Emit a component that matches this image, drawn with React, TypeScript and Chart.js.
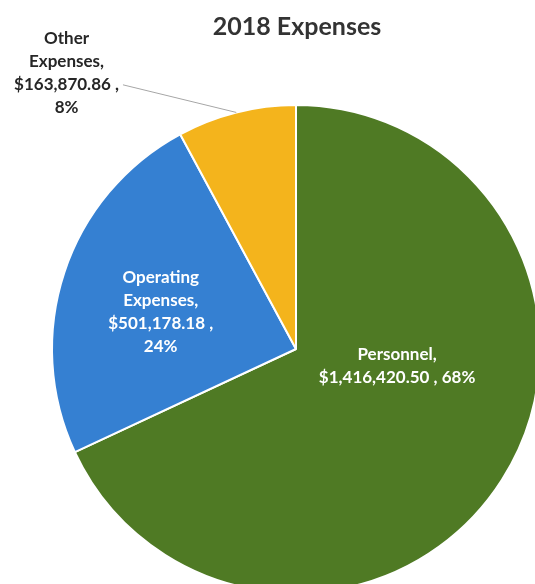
import React, { useEffect, useRef } from "react";
import { Chart, registerables } from "chart.js";

Chart.register(...registerables);

const categories = ["Personnel", "Operating Expenses", "Other Expenses"];
const amounts = [1416420.5, 501178.18, 163870.86];
const amountLabels = ["$1,416,420.50", "$501,178.18", "$163,870.86"];
const colors = ["#4f7a24", "#3580d2", "#f4b41c"];
const chartTitle = "2018 Expenses";

const FONT = "Lato, 'Open Sans', sans-serif";

const labelPlugin = {
  id: "pieLabels",
  afterDatasetsDraw(chart: any) {
    const ctx = chart.ctx;
    const meta = chart.getDatasetMeta(0);
    const total = amounts.reduce((a, b) => a + b, 0);
    // label layout per slice: angle offset (deg) from mid-angle, radial fraction, color, line breaks
    const place = [
      { off: -23, r: 0.42, color: "#ffffff", lines: (i: number, p: string) => [categories[i] + ",", amountLabels[i] + " , " + p] },
      { off: -3, r: 0.575, color: "#ffffff", lines: (i: number, p: string) => ["Operating", "Expenses,", amountLabels[i] + " ,", p] },
      { off: -25.6, r: 1.47, color: "#262626", lines: (i: number, p: string) => ["Other", "Expenses,", amountLabels[i] + " ,", p] },
    ];
    ctx.save();
    meta.data.forEach((arc: any, i: number) => {
      const { x, y, startAngle, endAngle, outerRadius } = arc.getProps(["x", "y", "startAngle", "endAngle", "outerRadius"], true);
      const mid = (startAngle + endAngle) / 2;
      const cfg = place[i];
      const a = mid + (cfg.off * Math.PI) / 180;
      const lx = x + Math.cos(a) * outerRadius * cfg.r;
      const ly = y + Math.sin(a) * outerRadius * cfg.r;
      const pct = Math.round((amounts[i] / total) * 100) + "%";
      const lines = cfg.lines(i, pct);
      const lh = 23;
      ctx.font = "bold 17px " + FONT;
      ctx.fillStyle = cfg.color;
      ctx.textAlign = "center";
      ctx.textBaseline = "middle";
      const y0 = ly - ((lines.length - 1) * lh) / 2;
      lines.forEach((t: string, k: number) => ctx.fillText(t, lx, y0 + k * lh));
      if (cfg.r > 1) {
        // leader line from arc edge to the end of the amount line
        const ex = x + Math.cos(mid) * outerRadius;
        const ey = y + Math.sin(mid) * outerRadius;
        const w = ctx.measureText(lines[2]).width;
        const sx = lx + w / 2 + 4;
        const sy = y0 + 2 * lh;
        ctx.strokeStyle = "#a6a6a6";
        ctx.lineWidth = 1;
        ctx.beginPath();
        ctx.moveTo(sx, sy);
        ctx.lineTo(ex, ey);
        ctx.stroke();
      }
    });
    // title
    ctx.font = "bold 25px " + FONT;
    ctx.fillStyle = "#333333";
    ctx.textAlign = "center";
    ctx.textBaseline = "middle";
    ctx.fillText(chartTitle, 297, 27);
    ctx.restore();
  },
};

export default function App() {
  const ref = useRef<HTMLCanvasElement>(null);
  useEffect(() => {
    const chart = new Chart(ref.current as HTMLCanvasElement, {
      type: "pie",
      data: {
        labels: categories,
        datasets: [
          {
            data: amounts,
            backgroundColor: colors,
            borderColor: "#ffffff",
            borderWidth: 2,
          },
        ],
      },
      options: {
        responsive: false,
        animation: false,
        layout: { padding: { left: 51, top: 104, right: 39, bottom: 46 } },
        plugins: {
          legend: { display: false },
          tooltip: { enabled: false },
          title: { display: false },
        },
      },
      plugins: [labelPlugin],
    });
    return () => chart.destroy();
  }, []);
  return (
    <div style={{ position: "absolute", left: 0, top: 0, width: 535, height: 584, overflow: "hidden", background: "#fff" }}>
      <canvas ref={ref} width={580} height={640} style={{ display: "block" }} />
    </div>
  );
}
